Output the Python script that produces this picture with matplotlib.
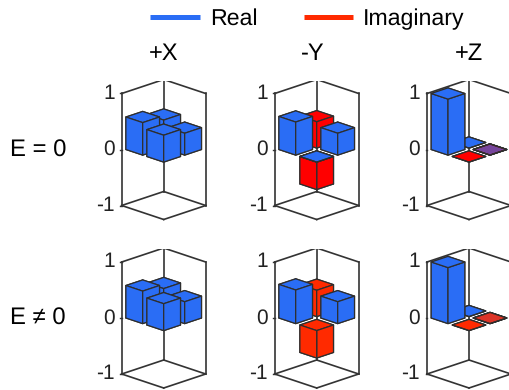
import matplotlib
matplotlib.use("Agg")
import matplotlib.pyplot as plt
from matplotlib.lines import Line2D
from mpl_toolkits.mplot3d import proj3d
import numpy as np

plt.rcParams['font.family'] = ['Liberation Sans', 'DejaVu Sans']
plt.rcParams['text.hinting'] = 'none'

W, H = 510, 390

# 2x2 matrices, [[left, back], [front, right]] as seen in the picture
# nan = no bar drawn for that element
titles = ['+X', '-Y', '+Z']
row_labels = ['E = 0', 'E \u2260 0']
z_ticks = [-1, 0, 1]

real_x_0 = [[0.58, 0.50], [0.48, 0.39]]
imag_x_0 = [[np.nan, np.nan], [np.nan, np.nan]]
real_y_0 = [[0.59, np.nan], [0.0, 0.39]]
imag_y_0 = [[np.nan, 0.47], [-0.49, np.nan]]
real_z_0 = [[1.0, 0.0], [np.nan, 0.0]]
imag_z_0 = [[np.nan, np.nan], [0.0, 0.0]]

real_x_1 = [[0.58, 0.50], [0.48, 0.39]]
imag_x_1 = [[np.nan, np.nan], [np.nan, np.nan]]
real_y_1 = [[0.60, np.nan], [np.nan, 0.39]]
imag_y_1 = [[np.nan, 0.47], [-0.49, np.nan]]
real_z_1 = [[1.0, 0.0], [np.nan, 0.0]]
imag_z_1 = [[np.nan, np.nan], [0.0, 0.0]]

panels = [
    [(real_x_0, imag_x_0), (real_y_0, imag_y_0), (real_z_0, imag_z_0)],
    [(real_x_1, imag_x_1), (real_y_1, imag_y_1), (real_z_1, imag_z_1)],
]

# how much the imaginary face covers the real one when both are flat
# (a flat bar paints two faces, so these compound)
overlap_alpha = [0.2, 0.6]

col_centers = [163.7, 316.7, 469.0]
row_centers = [149.5, 318.0]
box_width = 84.0

BLUE = '#2a6df5'
REDS = ['#ff0000', '#ff2a00']
EDGE = '#2e2e2e'
FRAME = '#333333'
BAR = 0.8
LO, HI = -0.5, 1.5
# painter's order: back, left, right, front
draw_order = [(0, 1), (0, 0), (1, 1), (1, 0)]


def to_px(ax, x, y, z):
    xs, ys, _ = proj3d.proj_transform(x, y, z, ax.get_proj())
    return ax.transData.transform((xs, ys))


def place(ax, cx, cy):
    # resize/shift the square axes until the box lands on the wanted pixels
    size = 170.0
    left, bottom = cx - size / 2, H - cy - size / 2
    for _ in range(4):
        ax.set_position([left / W, bottom / H, size / W, size / H])
        ax.apply_aspect()
        a = to_px(ax, LO, LO, 0)
        b = to_px(ax, HI, HI, 0)
        k = box_width / (b[0] - a[0])
        mid = (a + b) / 2
        off_x, off_y = mid[0] - left, mid[1] - bottom
        size *= k
        left = cx - off_x * k
        bottom = (H - cy) - off_y * k
    ax.set_position([left / W, bottom / H, size / W, size / H])


def draw_frame(ax):
    lines = [
        ([LO, LO], [LO, HI], [1, 1]),
        ([LO, HI], [HI, HI], [1, 1]),
        ([LO, LO], [LO, LO], [-1, 1]),
        ([LO, LO], [HI, HI], [-1, 1]),
        ([HI, HI], [HI, HI], [-1, 1]),
        ([LO, HI], [LO, LO], [-1, -1]),
        ([HI, HI], [LO, HI], [-1, -1]),
        ([LO, LO], [LO, HI], [-1, -1]),
        ([LO, HI], [HI, HI], [-1, -1]),
    ]
    for xs, ys, zs in lines:
        ax.plot(xs, ys, zs, color=FRAME, lw=1.2, zorder=1)
    for t in z_ticks:
        ax.plot([LO, LO - 0.035], [LO, LO - 0.035], [t, t], color=FRAME, lw=1.0,
                zorder=1, clip_on=False)


def draw_bar(ax, i, j, value, color, zorder, alpha=None):
    if np.isnan(value):
        return
    x = i - BAR / 2
    y = j - BAR / 2
    ax.bar3d(x, y, 0, BAR, BAR, value, color=color, edgecolor=EDGE, linewidth=0.9,
             shade=False, zorder=zorder, alpha=alpha)


fig = plt.figure(figsize=(W / 100, H / 100), dpi=100)

for r, row in enumerate(panels):
    for c, (real, imag) in enumerate(row):
        ax = fig.add_axes([0, 0, 0.3, 0.3 * W / H], projection='3d', proj_type='ortho')
        ax.computed_zorder = False
        ax.patch.set_alpha(0)
        ax.set_axis_off()
        ax.view_init(elev=19.47, azim=-45)
        ax.set_box_aspect((1, 1, 2))
        draw_frame(ax)
        zo = 2
        for i, j in draw_order:
            # imaginary below the real bar unless both are flat
            both_flat = real[i][j] == 0 and imag[i][j] == 0
            if both_flat:
                draw_bar(ax, i, j, real[i][j], BLUE, zo)
                draw_bar(ax, i, j, imag[i][j], REDS[r], zo + 1, alpha=overlap_alpha[r])
            else:
                draw_bar(ax, i, j, imag[i][j], REDS[r], zo)
                draw_bar(ax, i, j, real[i][j], BLUE, zo + 1)
            zo += 2
        ax.set_xlim(LO, HI)
        ax.set_ylim(LO, HI)
        ax.set_zlim(-1, 1)
        place(ax, col_centers[c], row_centers[r])
        for t in z_ticks:
            px = to_px(ax, LO, LO, t)
            fig.text((px[0] - 7) / W, px[1] / H, str(t), fontsize=15, color='#222222',
                     ha='right', va='center')

for c, t in enumerate(titles):
    fig.text([163.5, 312.5, 468.5][c] / W, 1 - 60.5 / H, t, fontsize=17,
             ha='center', va='baseline', color='black')

for r, t in enumerate(row_labels):
    fig.text(10 / W, 1 - (row_centers[r] + 7) / H, t, fontsize=17.2,
             ha='left', va='baseline', color='black')

handles = [Line2D([], [], color=BLUE, lw=3.6, solid_capstyle='butt'),
           Line2D([], [], color=REDS[1], lw=3.6, solid_capstyle='butt')]
fig.legend(handles, ['Real', 'Imaginary'], ncols=2, frameon=False, fontsize=16.7,
           loc='center left', bbox_to_anchor=(150 / W, 1 - 19 / H), borderaxespad=0,
           borderpad=0, handlelength=2.15, handletextpad=0.42, columnspacing=2.0,
           labelcolor='black')

fig.savefig('out.png', dpi=100)
